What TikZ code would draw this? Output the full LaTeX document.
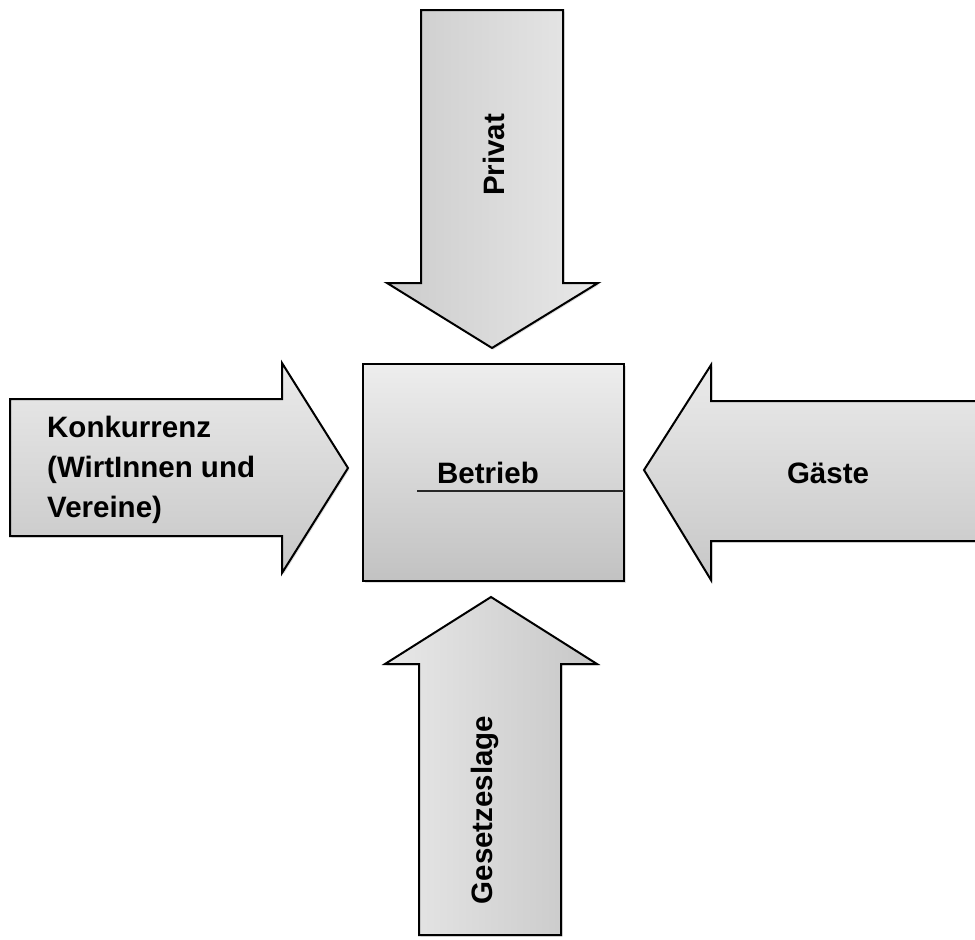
\documentclass[tikz,border=0pt]{standalone}
\usepackage{fontspec}
\setmainfont{Liberation Sans}
\usetikzlibrary{shadows}
\begin{document}
\begin{tikzpicture}[x=1pt,y=-1pt,
  blockshape/.style={draw=black,line width=2pt,line join=miter,
    drop shadow={shadow xshift=1.5pt,shadow yshift=-1.5pt,opacity=0.25,fill=gray}},
  lbl/.style={font=\bfseries\fontsize{29.5}{40}\selectfont,text=black,inner sep=0pt}]
\useasboundingbox (0,0) rectangle (975,940);
% top arrow (Privat)
\path[blockshape,left color=black!20,right color=black!9]
  (421,10) -- (563,10) -- (563,283) -- (598,283) -- (492,348) -- (387,283) -- (421,283) -- cycle;
% bottom arrow (Gesetzeslage)
\path[blockshape,left color=black!9,right color=black!22]
  (491,597) -- (597,664) -- (561,664) -- (561,935) -- (419,935) -- (419,664) -- (385,664) -- cycle;
% left arrow (Konkurrenz)
\path[blockshape,top color=black!8,bottom color=black!22]
  (10,399) -- (282,399) -- (282,363) -- (348,468) -- (282,573) -- (282,536) -- (10,536) -- cycle;
% right arrow (Gaeste)
\path[blockshape,top color=black!8,bottom color=black!22]
  (990,401) -- (711,401) -- (711,365) -- (644,470) -- (711,580) -- (711,541) -- (990,541) -- cycle;
% centre box (Betrieb)
\path[blockshape,top color=black!7,bottom color=black!24]
  (363,364) rectangle (624,581);
\coordinate (lineA) at (417,491);
\coordinate (lineB) at (624,491);
\draw[line width=1.3pt,black!85] (lineA) -- (lineB);
% labels
\node[lbl] (betrieb) at (488,473) {Betrieb};
\node[lbl,rotate=90] (privat) at (494,155) {Privat};
\node[lbl,rotate=90] (gesetz) at (485,810) {Gesetzeslage};
\node[lbl] (gaeste) at (828,473) {Gäste};
\node[lbl,align=left,anchor=west] (konk) at (47,470) {Konkurrenz\\(WirtInnen und\\Vereine)};
\end{tikzpicture}
\end{document}
